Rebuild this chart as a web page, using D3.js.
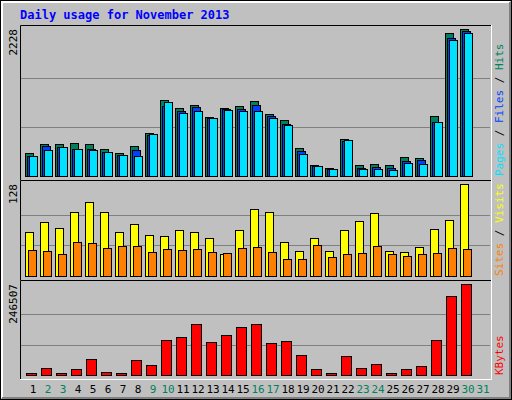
<!DOCTYPE html>
<html><head><meta charset="utf-8">
<script src="https://cdn.jsdelivr.net/npm/d3@7"></script>
<style>body{margin:0;background:#fff}text{font-family:"DejaVu Sans Mono",monospace}</style>
</head><body><svg id="c" width="512" height="400"></svg>
<script>
// values
var days = d3.range(1, 32);
var weekend = [2,3,9,10,16,17,23,24,30,31];
var hits  = [344,480,480,496,480,405,344,455,647,1152,1026,1076,890,1026,1057,1137,935,844,420,167,117,556,167,182,167,288,273,910,2168,2228,0];
var files = [303,450,440,409,409,364,318,394,617,1061,981,1041,875,1011,1011,1072,905,784,374,147,102,526,117,136,121,223,238,819,2092,2198,0];
var pages = [299,390,440,409,394,364,318,299,632,1117,950,981,875,996,981,981,875,769,329,147,102,541,102,102,86,197,182,819,2062,2168,0];
var visits = [61,75,67,89,103,89,61,72,57,56,64,61,53,30,64,93,89,48,35,53,35,64,77,88,35,34,41,66,78,128,0];
var sites  = [36,35,31,48,46,39,42,42,34,38,36,38,34,32,39,41,34,23,24,43,27,30,32,42,30,28,30,32,39,38,0];
var kbytes = [6300,19800,6300,17100,44100,9000,6300,41400,27900,95400,103500,138500,90000,108900,130500,138500,87300,92700,54900,17100,6300,52200,19800,30600,6300,17100,25200,95400,214100,246507,0];

var svg = d3.select("#c");
svg.append("rect").attr("width",512).attr("height",400).attr("fill","#c0c0c0");
// bevelled frame
svg.append("rect").attr("x",0.5).attr("y",0.5).attr("width",511).attr("height",399).attr("fill","none").attr("stroke","#000");
svg.append("path").attr("d","M2,398V2H510").attr("stroke","#fff").attr("stroke-width",2).attr("fill","none");
svg.append("path").attr("d","M2,398H510V2").attr("stroke","#808080").attr("stroke-width",2).attr("fill","none");

svg.append("text").attr("x",20).attr("y",19).attr("fill","#0000ff").attr("font-weight","bold")
  .attr("font-size",12).text("Daily usage for November 2013");

var x = d3.scaleLinear().domain([1,31]).range([25,475]);

function panel(top, bottom, base, maxY, maxV, label, series, legend) {
  var y = d3.scaleLinear().domain([0,maxV]).range([base, maxY]);
  var g = svg.append("g");
  g.append("rect").attr("x",20).attr("y",top).attr("width",471).attr("height",bottom-top).attr("fill","#c0c0c0");
  y.ticks(3);
  [maxV/3, maxV*2/3].forEach(function(v){
    g.append("line").attr("x1",21).attr("x2",490).attr("y1",Math.round(y(v))+0.5).attr("y2",Math.round(y(v))+0.5).attr("stroke","#808080");
  });
  g.append("path").attr("d","M20.5,"+bottom+"V"+(top+0.5)+"H491").attr("stroke","#000").attr("fill","none");
  g.append("path").attr("d","M20,"+(bottom+0.5)+"H491.5V"+top).attr("stroke","#fff").attr("fill","none");
  series.forEach(function(s){
    g.selectAll(null).data(s.values.map(function(v,i){return {d:days[i],v:v};}).filter(function(e){return e.v>0;}))
      .enter().append("rect")
      .attr("x",function(e){return x(e.d)+s.off+0.5;})
      .attr("y",function(e){return Math.round(y(e.v))+0.5;})
      .attr("width",s.w)
      .attr("height",function(e){return base-Math.round(y(e.v));})
      .attr("fill",s.color).attr("stroke","#000");
  });
  g.append("text").attr("transform","translate(17,"+maxY+") rotate(-90)").attr("text-anchor","end")
    .attr("font-size",11).text(label);
  var t = g.append("text").attr("transform","translate(503,"+(base)+") rotate(-90)").attr("font-size",11);
  legend.forEach(function(l,i){
    if (i) t.append("tspan").attr("fill","#000").text(" / ");
    t.append("tspan").attr("fill",l[1]).text(l[0]);
  });
}

panel(25, 180, 176, 29, 2228, "2228", [
  {values:hits, off:0, w:8, color:"#00805c"},
  {values:files, off:2, w:8, color:"#0040ff"},
  {values:pages, off:4, w:8, color:"#00e0ff"}
], [["Pages","#00e0ff"],["Files","#0040ff"],["Hits","#00805c"]]);

panel(180, 280, 276, 184, 128, "128", [
  {values:visits, off:0, w:8, color:"#ffff00"},
  {values:sites, off:3, w:8, color:"#ff8000"}
], [["Sites","#ff8000"],["Visits","#ffff00"]]);

panel(280, 379, 375, 284, 246507, "246507", [
  {values:kbytes, off:1, w:10, color:"#ff0000"}
], [["KBytes","#ff0000"]]);

svg.selectAll(".day").data(days).enter().append("text")
  .attr("x",function(d){return x(d)+8;}).attr("y",393).attr("text-anchor","middle").attr("font-size",11)
  .attr("fill",function(d){return weekend.indexOf(d)>=0?"#00805c":"#000";})
  .text(function(d){return d;});
</script></body></html>
